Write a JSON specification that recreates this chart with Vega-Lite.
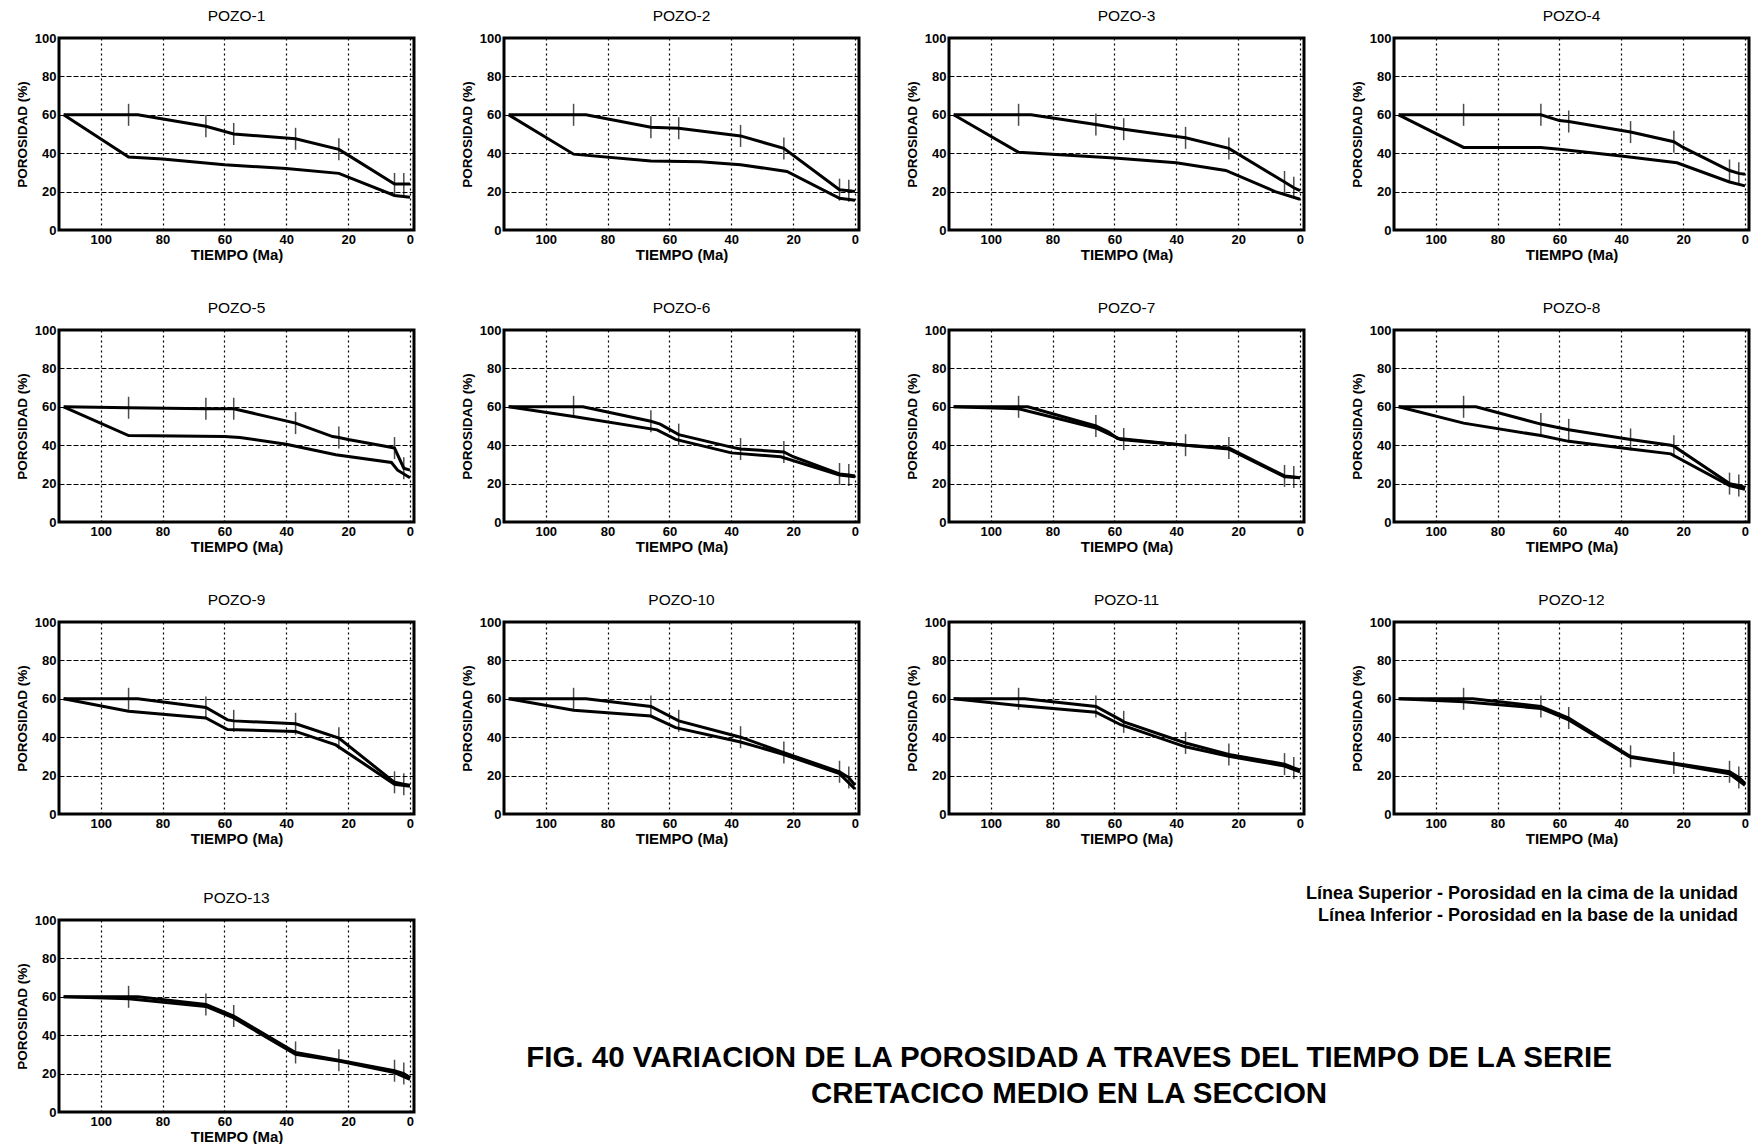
{
"$schema": "https://vega.github.io/schema/vega-lite/v6.json",
"padding": {"left": 13, "top": 7, "right": 1, "bottom": 2},
"background": "white",
"config": {
  "font": "Liberation Sans",
  "view": {"stroke": "black", "strokeWidth": 3},
  "axis": {"domain": false, "ticks": false, "labelFontSize": 13, "labelFontWeight": "bold", "labelColor": "black", "titleFontWeight": "bold", "titleColor": "black", "gridColor": "black", "gridOpacity": 1, "gridWidth": 1.2, "labelPadding": 3, "labelFlush": false, "labelOverlap": false},
  "axisX": {"gridDash": [2, 3], "titleFontSize": 15, "titlePadding": 1},
  "axisY": {"gridDash": [5, 2], "titleFontSize": 13.5, "titlePadding": 5},
  "title": {"fontSize": 15.5, "fontWeight": "normal", "color": "black", "offset": 8},
  "header": {"labelFontSize": 15.5, "labelColor": "black", "labelPadding": 8, "labelFont": "Liberation Sans"}
},
"datasets": {
"curvas": [
{"pozo":"POZO-1","linea":"Superior","tiempo":112,"porosidad":60},{"pozo":"POZO-1","linea":"Superior","tiempo":91,"porosidad":60},{"pozo":"POZO-1","linea":"Superior","tiempo":88,"porosidad":60},{"pozo":"POZO-1","linea":"Superior","tiempo":66,"porosidad":54},{"pozo":"POZO-1","linea":"Superior","tiempo":57,"porosidad":50},{"pozo":"POZO-1","linea":"Superior","tiempo":37,"porosidad":47.5},{"pozo":"POZO-1","linea":"Superior","tiempo":23,"porosidad":42},{"pozo":"POZO-1","linea":"Superior","tiempo":20,"porosidad":39},{"pozo":"POZO-1","linea":"Superior","tiempo":5,"porosidad":24},{"pozo":"POZO-1","linea":"Superior","tiempo":2,"porosidad":24},{"pozo":"POZO-1","linea":"Superior","tiempo":0,"porosidad":24},
{"pozo":"POZO-1","linea":"Inferior","tiempo":112,"porosidad":60},{"pozo":"POZO-1","linea":"Inferior","tiempo":91,"porosidad":38},{"pozo":"POZO-1","linea":"Inferior","tiempo":80,"porosidad":37},{"pozo":"POZO-1","linea":"Inferior","tiempo":60,"porosidad":34},{"pozo":"POZO-1","linea":"Inferior","tiempo":40,"porosidad":32},{"pozo":"POZO-1","linea":"Inferior","tiempo":23,"porosidad":29.5},{"pozo":"POZO-1","linea":"Inferior","tiempo":5,"porosidad":18},{"pozo":"POZO-1","linea":"Inferior","tiempo":0,"porosidad":17},
{"pozo":"POZO-2","linea":"Superior","tiempo":112,"porosidad":60},{"pozo":"POZO-2","linea":"Superior","tiempo":91,"porosidad":60},{"pozo":"POZO-2","linea":"Superior","tiempo":87,"porosidad":60},{"pozo":"POZO-2","linea":"Superior","tiempo":66,"porosidad":53.5},{"pozo":"POZO-2","linea":"Superior","tiempo":57,"porosidad":53},{"pozo":"POZO-2","linea":"Superior","tiempo":37,"porosidad":49},{"pozo":"POZO-2","linea":"Superior","tiempo":23,"porosidad":42.5},{"pozo":"POZO-2","linea":"Superior","tiempo":5,"porosidad":21},{"pozo":"POZO-2","linea":"Superior","tiempo":2,"porosidad":20.5},{"pozo":"POZO-2","linea":"Superior","tiempo":0,"porosidad":20},
{"pozo":"POZO-2","linea":"Inferior","tiempo":112,"porosidad":60},{"pozo":"POZO-2","linea":"Inferior","tiempo":91,"porosidad":39.5},{"pozo":"POZO-2","linea":"Inferior","tiempo":66,"porosidad":36},{"pozo":"POZO-2","linea":"Inferior","tiempo":50,"porosidad":35.5},{"pozo":"POZO-2","linea":"Inferior","tiempo":37,"porosidad":34},{"pozo":"POZO-2","linea":"Inferior","tiempo":22,"porosidad":30.5},{"pozo":"POZO-2","linea":"Inferior","tiempo":5,"porosidad":16.5},{"pozo":"POZO-2","linea":"Inferior","tiempo":0,"porosidad":15.5},
{"pozo":"POZO-3","linea":"Superior","tiempo":112,"porosidad":60},{"pozo":"POZO-3","linea":"Superior","tiempo":91,"porosidad":60},{"pozo":"POZO-3","linea":"Superior","tiempo":87,"porosidad":60},{"pozo":"POZO-3","linea":"Superior","tiempo":66,"porosidad":55},{"pozo":"POZO-3","linea":"Superior","tiempo":57,"porosidad":52.5},{"pozo":"POZO-3","linea":"Superior","tiempo":37,"porosidad":48},{"pozo":"POZO-3","linea":"Superior","tiempo":23,"porosidad":42.5},{"pozo":"POZO-3","linea":"Superior","tiempo":5,"porosidad":25},{"pozo":"POZO-3","linea":"Superior","tiempo":2,"porosidad":22},{"pozo":"POZO-3","linea":"Superior","tiempo":0,"porosidad":20.5},
{"pozo":"POZO-3","linea":"Inferior","tiempo":112,"porosidad":60},{"pozo":"POZO-3","linea":"Inferior","tiempo":91,"porosidad":40.5},{"pozo":"POZO-3","linea":"Inferior","tiempo":60,"porosidad":37.5},{"pozo":"POZO-3","linea":"Inferior","tiempo":40,"porosidad":35},{"pozo":"POZO-3","linea":"Inferior","tiempo":24,"porosidad":31},{"pozo":"POZO-3","linea":"Inferior","tiempo":8,"porosidad":20},{"pozo":"POZO-3","linea":"Inferior","tiempo":0,"porosidad":16},
{"pozo":"POZO-4","linea":"Superior","tiempo":112,"porosidad":60},{"pozo":"POZO-4","linea":"Superior","tiempo":91,"porosidad":60},{"pozo":"POZO-4","linea":"Superior","tiempo":66,"porosidad":60},{"pozo":"POZO-4","linea":"Superior","tiempo":60,"porosidad":57},{"pozo":"POZO-4","linea":"Superior","tiempo":57,"porosidad":56.5},{"pozo":"POZO-4","linea":"Superior","tiempo":37,"porosidad":51},{"pozo":"POZO-4","linea":"Superior","tiempo":23,"porosidad":46},{"pozo":"POZO-4","linea":"Superior","tiempo":20,"porosidad":43},{"pozo":"POZO-4","linea":"Superior","tiempo":5,"porosidad":31},{"pozo":"POZO-4","linea":"Superior","tiempo":2,"porosidad":29.5},{"pozo":"POZO-4","linea":"Superior","tiempo":0,"porosidad":29},
{"pozo":"POZO-4","linea":"Inferior","tiempo":112,"porosidad":60},{"pozo":"POZO-4","linea":"Inferior","tiempo":91,"porosidad":43},{"pozo":"POZO-4","linea":"Inferior","tiempo":66,"porosidad":43},{"pozo":"POZO-4","linea":"Inferior","tiempo":60,"porosidad":42},{"pozo":"POZO-4","linea":"Inferior","tiempo":40,"porosidad":38.5},{"pozo":"POZO-4","linea":"Inferior","tiempo":22,"porosidad":35},{"pozo":"POZO-4","linea":"Inferior","tiempo":5,"porosidad":25},{"pozo":"POZO-4","linea":"Inferior","tiempo":0,"porosidad":23},
{"pozo":"POZO-5","linea":"Superior","tiempo":112,"porosidad":60},{"pozo":"POZO-5","linea":"Superior","tiempo":91,"porosidad":59.5},{"pozo":"POZO-5","linea":"Superior","tiempo":66,"porosidad":59},{"pozo":"POZO-5","linea":"Superior","tiempo":57,"porosidad":59},{"pozo":"POZO-5","linea":"Superior","tiempo":37,"porosidad":51.5},{"pozo":"POZO-5","linea":"Superior","tiempo":25,"porosidad":44.5},{"pozo":"POZO-5","linea":"Superior","tiempo":23,"porosidad":44},{"pozo":"POZO-5","linea":"Superior","tiempo":20,"porosidad":43},{"pozo":"POZO-5","linea":"Superior","tiempo":8,"porosidad":39.5},{"pozo":"POZO-5","linea":"Superior","tiempo":5,"porosidad":38.5},{"pozo":"POZO-5","linea":"Superior","tiempo":2,"porosidad":28},{"pozo":"POZO-5","linea":"Superior","tiempo":0,"porosidad":27},
{"pozo":"POZO-5","linea":"Inferior","tiempo":112,"porosidad":60},{"pozo":"POZO-5","linea":"Inferior","tiempo":91,"porosidad":45},{"pozo":"POZO-5","linea":"Inferior","tiempo":60,"porosidad":44.5},{"pozo":"POZO-5","linea":"Inferior","tiempo":55,"porosidad":44},{"pozo":"POZO-5","linea":"Inferior","tiempo":40,"porosidad":40.5},{"pozo":"POZO-5","linea":"Inferior","tiempo":24,"porosidad":35},{"pozo":"POZO-5","linea":"Inferior","tiempo":6,"porosidad":31},{"pozo":"POZO-5","linea":"Inferior","tiempo":4,"porosidad":27},{"pozo":"POZO-5","linea":"Inferior","tiempo":0,"porosidad":23},
{"pozo":"POZO-6","linea":"Superior","tiempo":112,"porosidad":60},{"pozo":"POZO-6","linea":"Superior","tiempo":91,"porosidad":60},{"pozo":"POZO-6","linea":"Superior","tiempo":88,"porosidad":60},{"pozo":"POZO-6","linea":"Superior","tiempo":66,"porosidad":52.5},{"pozo":"POZO-6","linea":"Superior","tiempo":63,"porosidad":51},{"pozo":"POZO-6","linea":"Superior","tiempo":57,"porosidad":45.5},{"pozo":"POZO-6","linea":"Superior","tiempo":40,"porosidad":39},{"pozo":"POZO-6","linea":"Superior","tiempo":37,"porosidad":38},{"pozo":"POZO-6","linea":"Superior","tiempo":23,"porosidad":36.5},{"pozo":"POZO-6","linea":"Superior","tiempo":20,"porosidad":34},{"pozo":"POZO-6","linea":"Superior","tiempo":5,"porosidad":25},{"pozo":"POZO-6","linea":"Superior","tiempo":2,"porosidad":24.5},{"pozo":"POZO-6","linea":"Superior","tiempo":0,"porosidad":24},
{"pozo":"POZO-6","linea":"Inferior","tiempo":112,"porosidad":60},{"pozo":"POZO-6","linea":"Inferior","tiempo":91,"porosidad":55},{"pozo":"POZO-6","linea":"Inferior","tiempo":64,"porosidad":48},{"pozo":"POZO-6","linea":"Inferior","tiempo":58,"porosidad":43},{"pozo":"POZO-6","linea":"Inferior","tiempo":40,"porosidad":36},{"pozo":"POZO-6","linea":"Inferior","tiempo":24,"porosidad":34},{"pozo":"POZO-6","linea":"Inferior","tiempo":5,"porosidad":24.5},{"pozo":"POZO-6","linea":"Inferior","tiempo":0,"porosidad":23.5},
{"pozo":"POZO-7","linea":"Superior","tiempo":112,"porosidad":60},{"pozo":"POZO-7","linea":"Superior","tiempo":91,"porosidad":60},{"pozo":"POZO-7","linea":"Superior","tiempo":88,"porosidad":60},{"pozo":"POZO-7","linea":"Superior","tiempo":66,"porosidad":50},{"pozo":"POZO-7","linea":"Superior","tiempo":62,"porosidad":47},{"pozo":"POZO-7","linea":"Superior","tiempo":59,"porosidad":43.5},{"pozo":"POZO-7","linea":"Superior","tiempo":57,"porosidad":43.2},{"pozo":"POZO-7","linea":"Superior","tiempo":37,"porosidad":40},{"pozo":"POZO-7","linea":"Superior","tiempo":23,"porosidad":38.5},{"pozo":"POZO-7","linea":"Superior","tiempo":5,"porosidad":24},{"pozo":"POZO-7","linea":"Superior","tiempo":2,"porosidad":23.5},{"pozo":"POZO-7","linea":"Superior","tiempo":0,"porosidad":23},
{"pozo":"POZO-7","linea":"Inferior","tiempo":112,"porosidad":60},{"pozo":"POZO-7","linea":"Inferior","tiempo":91,"porosidad":59},{"pozo":"POZO-7","linea":"Inferior","tiempo":66,"porosidad":49},{"pozo":"POZO-7","linea":"Inferior","tiempo":58,"porosidad":43},{"pozo":"POZO-7","linea":"Inferior","tiempo":37,"porosidad":40},{"pozo":"POZO-7","linea":"Inferior","tiempo":23,"porosidad":38},{"pozo":"POZO-7","linea":"Inferior","tiempo":5,"porosidad":23.5},{"pozo":"POZO-7","linea":"Inferior","tiempo":0,"porosidad":23},
{"pozo":"POZO-8","linea":"Superior","tiempo":112,"porosidad":60},{"pozo":"POZO-8","linea":"Superior","tiempo":91,"porosidad":60},{"pozo":"POZO-8","linea":"Superior","tiempo":87,"porosidad":60},{"pozo":"POZO-8","linea":"Superior","tiempo":66,"porosidad":51},{"pozo":"POZO-8","linea":"Superior","tiempo":57,"porosidad":48},{"pozo":"POZO-8","linea":"Superior","tiempo":37,"porosidad":43},{"pozo":"POZO-8","linea":"Superior","tiempo":24,"porosidad":40},{"pozo":"POZO-8","linea":"Superior","tiempo":23,"porosidad":39.5},{"pozo":"POZO-8","linea":"Superior","tiempo":5,"porosidad":20},{"pozo":"POZO-8","linea":"Superior","tiempo":2,"porosidad":19},{"pozo":"POZO-8","linea":"Superior","tiempo":0,"porosidad":18},
{"pozo":"POZO-8","linea":"Inferior","tiempo":112,"porosidad":60},{"pozo":"POZO-8","linea":"Inferior","tiempo":91,"porosidad":51.5},{"pozo":"POZO-8","linea":"Inferior","tiempo":66,"porosidad":45},{"pozo":"POZO-8","linea":"Inferior","tiempo":57,"porosidad":42},{"pozo":"POZO-8","linea":"Inferior","tiempo":37,"porosidad":38},{"pozo":"POZO-8","linea":"Inferior","tiempo":24,"porosidad":35.5},{"pozo":"POZO-8","linea":"Inferior","tiempo":5,"porosidad":19},{"pozo":"POZO-8","linea":"Inferior","tiempo":0,"porosidad":17},
{"pozo":"POZO-9","linea":"Superior","tiempo":112,"porosidad":60},{"pozo":"POZO-9","linea":"Superior","tiempo":91,"porosidad":60},{"pozo":"POZO-9","linea":"Superior","tiempo":88,"porosidad":60},{"pozo":"POZO-9","linea":"Superior","tiempo":66,"porosidad":55.5},{"pozo":"POZO-9","linea":"Superior","tiempo":59,"porosidad":49},{"pozo":"POZO-9","linea":"Superior","tiempo":57,"porosidad":48.5},{"pozo":"POZO-9","linea":"Superior","tiempo":37,"porosidad":47},{"pozo":"POZO-9","linea":"Superior","tiempo":36,"porosidad":46.5},{"pozo":"POZO-9","linea":"Superior","tiempo":23,"porosidad":39.5},{"pozo":"POZO-9","linea":"Superior","tiempo":5,"porosidad":16.5},{"pozo":"POZO-9","linea":"Superior","tiempo":2,"porosidad":15.5},{"pozo":"POZO-9","linea":"Superior","tiempo":0,"porosidad":15},
{"pozo":"POZO-9","linea":"Inferior","tiempo":112,"porosidad":60},{"pozo":"POZO-9","linea":"Inferior","tiempo":91,"porosidad":53.5},{"pozo":"POZO-9","linea":"Inferior","tiempo":66,"porosidad":50},{"pozo":"POZO-9","linea":"Inferior","tiempo":59,"porosidad":44},{"pozo":"POZO-9","linea":"Inferior","tiempo":37,"porosidad":43},{"pozo":"POZO-9","linea":"Inferior","tiempo":24,"porosidad":36},{"pozo":"POZO-9","linea":"Inferior","tiempo":5,"porosidad":15.5},{"pozo":"POZO-9","linea":"Inferior","tiempo":0,"porosidad":14.5},
{"pozo":"POZO-10","linea":"Superior","tiempo":112,"porosidad":60},{"pozo":"POZO-10","linea":"Superior","tiempo":91,"porosidad":60},{"pozo":"POZO-10","linea":"Superior","tiempo":87,"porosidad":60},{"pozo":"POZO-10","linea":"Superior","tiempo":66,"porosidad":56},{"pozo":"POZO-10","linea":"Superior","tiempo":57,"porosidad":48.5},{"pozo":"POZO-10","linea":"Superior","tiempo":37,"porosidad":40},{"pozo":"POZO-10","linea":"Superior","tiempo":23,"porosidad":32},{"pozo":"POZO-10","linea":"Superior","tiempo":5,"porosidad":22},{"pozo":"POZO-10","linea":"Superior","tiempo":2,"porosidad":19},{"pozo":"POZO-10","linea":"Superior","tiempo":0,"porosidad":15},
{"pozo":"POZO-10","linea":"Inferior","tiempo":112,"porosidad":60},{"pozo":"POZO-10","linea":"Inferior","tiempo":91,"porosidad":54},{"pozo":"POZO-10","linea":"Inferior","tiempo":66,"porosidad":51},{"pozo":"POZO-10","linea":"Inferior","tiempo":58,"porosidad":45},{"pozo":"POZO-10","linea":"Inferior","tiempo":37,"porosidad":37.5},{"pozo":"POZO-10","linea":"Inferior","tiempo":23,"porosidad":31},{"pozo":"POZO-10","linea":"Inferior","tiempo":5,"porosidad":21},{"pozo":"POZO-10","linea":"Inferior","tiempo":0,"porosidad":13},
{"pozo":"POZO-11","linea":"Superior","tiempo":112,"porosidad":60},{"pozo":"POZO-11","linea":"Superior","tiempo":91,"porosidad":60},{"pozo":"POZO-11","linea":"Superior","tiempo":89,"porosidad":60},{"pozo":"POZO-11","linea":"Superior","tiempo":66,"porosidad":56},{"pozo":"POZO-11","linea":"Superior","tiempo":58,"porosidad":49},{"pozo":"POZO-11","linea":"Superior","tiempo":57,"porosidad":48},{"pozo":"POZO-11","linea":"Superior","tiempo":37,"porosidad":37},{"pozo":"POZO-11","linea":"Superior","tiempo":23,"porosidad":31},{"pozo":"POZO-11","linea":"Superior","tiempo":5,"porosidad":26},{"pozo":"POZO-11","linea":"Superior","tiempo":2,"porosidad":24},{"pozo":"POZO-11","linea":"Superior","tiempo":0,"porosidad":23},
{"pozo":"POZO-11","linea":"Inferior","tiempo":112,"porosidad":60},{"pozo":"POZO-11","linea":"Inferior","tiempo":91,"porosidad":56.5},{"pozo":"POZO-11","linea":"Inferior","tiempo":66,"porosidad":53},{"pozo":"POZO-11","linea":"Inferior","tiempo":58,"porosidad":46.5},{"pozo":"POZO-11","linea":"Inferior","tiempo":37,"porosidad":35},{"pozo":"POZO-11","linea":"Inferior","tiempo":23,"porosidad":30},{"pozo":"POZO-11","linea":"Inferior","tiempo":5,"porosidad":25},{"pozo":"POZO-11","linea":"Inferior","tiempo":0,"porosidad":22},
{"pozo":"POZO-12","linea":"Superior","tiempo":112,"porosidad":60},{"pozo":"POZO-12","linea":"Superior","tiempo":91,"porosidad":60},{"pozo":"POZO-12","linea":"Superior","tiempo":88,"porosidad":60},{"pozo":"POZO-12","linea":"Superior","tiempo":66,"porosidad":56},{"pozo":"POZO-12","linea":"Superior","tiempo":57,"porosidad":50},{"pozo":"POZO-12","linea":"Superior","tiempo":37,"porosidad":30},{"pozo":"POZO-12","linea":"Superior","tiempo":23,"porosidad":26.5},{"pozo":"POZO-12","linea":"Superior","tiempo":5,"porosidad":22},{"pozo":"POZO-12","linea":"Superior","tiempo":2,"porosidad":19},{"pozo":"POZO-12","linea":"Superior","tiempo":0,"porosidad":16},
{"pozo":"POZO-12","linea":"Inferior","tiempo":112,"porosidad":60},{"pozo":"POZO-12","linea":"Inferior","tiempo":91,"porosidad":58.5},{"pozo":"POZO-12","linea":"Inferior","tiempo":66,"porosidad":55},{"pozo":"POZO-12","linea":"Inferior","tiempo":57,"porosidad":49},{"pozo":"POZO-12","linea":"Inferior","tiempo":37,"porosidad":29.5},{"pozo":"POZO-12","linea":"Inferior","tiempo":23,"porosidad":26},{"pozo":"POZO-12","linea":"Inferior","tiempo":5,"porosidad":21},{"pozo":"POZO-12","linea":"Inferior","tiempo":0,"porosidad":15},
{"pozo":"POZO-13","linea":"Superior","tiempo":112,"porosidad":60},{"pozo":"POZO-13","linea":"Superior","tiempo":91,"porosidad":60},{"pozo":"POZO-13","linea":"Superior","tiempo":88,"porosidad":60},{"pozo":"POZO-13","linea":"Superior","tiempo":66,"porosidad":56},{"pozo":"POZO-13","linea":"Superior","tiempo":57,"porosidad":50},{"pozo":"POZO-13","linea":"Superior","tiempo":37,"porosidad":31},{"pozo":"POZO-13","linea":"Superior","tiempo":23,"porosidad":27},{"pozo":"POZO-13","linea":"Superior","tiempo":5,"porosidad":21.5},{"pozo":"POZO-13","linea":"Superior","tiempo":2,"porosidad":20},{"pozo":"POZO-13","linea":"Superior","tiempo":0,"porosidad":18},
{"pozo":"POZO-13","linea":"Inferior","tiempo":112,"porosidad":60},{"pozo":"POZO-13","linea":"Inferior","tiempo":91,"porosidad":59},{"pozo":"POZO-13","linea":"Inferior","tiempo":66,"porosidad":55},{"pozo":"POZO-13","linea":"Inferior","tiempo":57,"porosidad":49},{"pozo":"POZO-13","linea":"Inferior","tiempo":37,"porosidad":30},{"pozo":"POZO-13","linea":"Inferior","tiempo":23,"porosidad":26.5},{"pozo":"POZO-13","linea":"Inferior","tiempo":5,"porosidad":20.5},{"pozo":"POZO-13","linea":"Inferior","tiempo":0,"porosidad":17}
],
"leyenda": [
{"orden": 1, "texto": "Línea Superior - Porosidad en la cima de la unidad"},
{"orden": 2, "texto": "Línea Inferior - Porosidad en la base de la unidad"}
],
"titulo": [
{"orden": 1, "texto": "FIG. 40  VARIACION DE LA POROSIDAD A TRAVES DEL TIEMPO DE LA SERIE"},
{"orden": 2, "texto": "CRETACICO MEDIO EN LA SECCION"}
]
},
"spacing": 37,
"vconcat": [
{
  "data": {"name": "curvas"},
  "transform": [{"filter": "datum.pozo != 'POZO-13'"}],
  "facet": {"field": "pozo", "type": "nominal", "title": null,
    "sort": ["POZO-1","POZO-2","POZO-3","POZO-4","POZO-5","POZO-6","POZO-7","POZO-8","POZO-9","POZO-10","POZO-11","POZO-12"],
    "header": {"title": null}},
  "columns": 4,
  "spacing": {"row": 35, "column": 40},
  "resolve": {"axis": {"x": "independent", "y": "independent"}},
  "spec": {
    "width": 355, "height": 192,
    "encoding": {
      "x": {"field": "tiempo", "type": "quantitative", "title": "TIEMPO (Ma)", "scale": {"domain": [-1.3, 113.5], "reverse": true, "nice": false, "zero": false}, "axis": {"values": [0, 20, 40, 60, 80, 100]}},
      "y": {"field": "porosidad", "type": "quantitative", "title": "POROSIDAD (%)", "scale": {"domain": [0, 100], "nice": false}, "axis": {"values": [0, 20, 40, 60, 80, 100]}}
    },
    "layer": [
      {"mark": {"type": "line", "color": "black", "strokeWidth": 3},
       "encoding": {"detail": {"field": "linea", "type": "nominal"}}},
      {"transform": [{"filter": {"and": [{"field": "linea", "equal": "Superior"}, {"field": "tiempo", "oneOf": [91, 66, 57, 37, 23, 5, 2]}]}}],
       "mark": {"type": "tick", "orient": "vertical", "size": 22, "thickness": 1.5, "color": "black"}}
    ]
  }
},
{
  "spacing": 50,
  "bounds": "flush",
  "hconcat": [
    {
      "data": {"name": "curvas"},
      "transform": [{"filter": "datum.pozo == 'POZO-13'"}],
      "title": {"text": "POZO-13"},
      "width": 355, "height": 192,
      "encoding": {
        "x": {"field": "tiempo", "type": "quantitative", "title": "TIEMPO (Ma)", "scale": {"domain": [-1.3, 113.5], "reverse": true, "nice": false, "zero": false}, "axis": {"values": [0, 20, 40, 60, 80, 100]}},
        "y": {"field": "porosidad", "type": "quantitative", "title": "POROSIDAD (%)", "scale": {"domain": [0, 100], "nice": false}, "axis": {"values": [0, 20, 40, 60, 80, 100]}}
      },
      "layer": [
        {"mark": {"type": "line", "color": "black", "strokeWidth": 3},
         "encoding": {"detail": {"field": "linea", "type": "nominal"}}},
        {"transform": [{"filter": {"and": [{"field": "linea", "equal": "Superior"}, {"field": "tiempo", "oneOf": [91, 66, 57, 37, 23, 5, 2]}]}}],
         "mark": {"type": "tick", "orient": "vertical", "size": 22, "thickness": 1.5, "color": "black"}}
      ]
    },
    {
      "spacing": 76,
      "bounds": "flush",
      "vconcat": [
        {
          "data": {"name": "leyenda"},
          "width": 1274, "height": 44,
          "view": {"stroke": null},
          "mark": {"type": "text", "align": "right", "fontSize": 18, "fontWeight": "bold", "color": "black", "dy": -37},
          "encoding": {
            "x": {"value": "width"},
            "y": {"field": "orden", "type": "ordinal", "axis": null},
            "text": {"field": "texto"}
          }
        },
        {
          "data": {"name": "titulo"},
          "width": 1210, "height": 72,
          "view": {"stroke": null},
          "mark": {"type": "text", "align": "center", "fontSize": 29.5, "fontWeight": "bold", "color": "black"},
          "encoding": {
            "y": {"field": "orden", "type": "ordinal", "axis": null},
            "text": {"field": "texto"}
          }
        }
      ]
    }
  ]
}
]
}
